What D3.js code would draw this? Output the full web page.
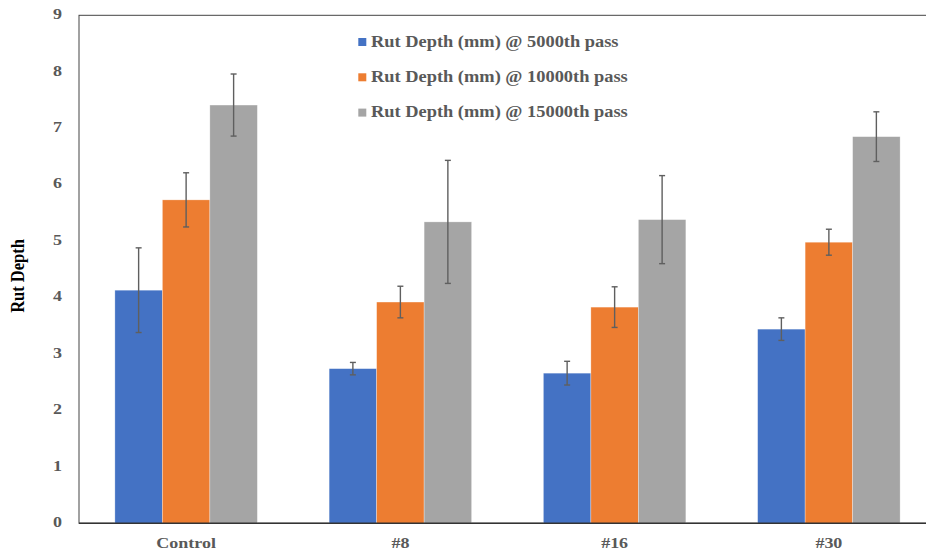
<!DOCTYPE html>
<html>
<head>
<meta charset="utf-8">
<script src="https://cdn.jsdelivr.net/npm/d3@7"></script>
<style>
  html, body { margin: 0; padding: 0; background: #fff; }
  svg { display: block; }
</style>
</head>
<body>
<svg id="chart" width="926" height="554"></svg>
<script>
const categories = ["Control", "#8", "#16", "#30"];
const seriesNames = [
  "Rut Depth (mm) @ 5000th pass",
  "Rut Depth (mm) @ 10000th pass",
  "Rut Depth (mm) @ 15000th pass"
];
const pass5000 = [4.13, 2.74, 2.66, 3.44];
const pass10000 = [5.73, 3.92, 3.83, 4.98];
const pass15000 = [7.41, 5.34, 5.38, 6.85];
const err5000 = [0.75, 0.11, 0.21, 0.20];
const err10000 = [0.48, 0.28, 0.36, 0.23];
const err15000 = [0.55, 1.09, 0.78, 0.44];
const yTicks = [0, 1, 2, 3, 4, 5, 6, 7, 8, 9];
const colors = ["#4472C4", "#ED7D31", "#A5A5A5"];

const values = [pass5000, pass10000, pass15000];
const errors = [err5000, err10000, err15000];

const svg = d3.select("#chart");
const mLeft = 79, mRight = 936, mTop = 15.3, mBottom = 523.3;

const x = d3.scaleBand().domain(categories).range([mLeft, mRight]).paddingInner(0.335).paddingOuter(0.1675);
const xs = d3.scaleBand().domain(d3.range(3)).range([0, x.bandwidth()]);
const y = d3.scaleLinear().domain([0, 9]).range([mBottom, mTop]);

// Plot frame
svg.append("rect").attr("x", mLeft).attr("y", mTop).attr("width", mRight - mLeft).attr("height", mBottom - mTop)
  .attr("fill", "none").attr("stroke", "#444").attr("stroke-width", 1);

// Bars
const groups = svg.append("g").selectAll("g").data(categories).join("g")
  .attr("transform", d => `translate(${x(d)},0)`);

values.forEach((vals, s) => {
  groups.append("rect")
    .attr("x", xs(s))
    .attr("width", xs.bandwidth())
    .attr("y", (d, i) => y(vals[i]))
    .attr("height", (d, i) => y(0) - y(vals[i]))
    .attr("fill", colors[s])
    .attr("stroke", "#fff").attr("stroke-opacity", 0.5).attr("stroke-width", 0.6);
});

// Error bars
values.forEach((vals, s) => {
  const cx = xs(s) + xs.bandwidth() / 2;
  const eb = groups.append("g").attr("stroke", "#5f5f5f").attr("stroke-width", 1.4);
  eb.append("line").attr("x1", cx).attr("x2", cx)
    .attr("y1", (d, i) => y(vals[i] + errors[s][i])).attr("y2", (d, i) => y(vals[i] - errors[s][i]));
  eb.append("line").attr("x1", cx - 3).attr("x2", cx + 3)
    .attr("y1", (d, i) => y(vals[i] + errors[s][i])).attr("y2", (d, i) => y(vals[i] + errors[s][i]));
  eb.append("line").attr("x1", cx - 3).attr("x2", cx + 3)
    .attr("y1", (d, i) => y(vals[i] - errors[s][i])).attr("y2", (d, i) => y(vals[i] - errors[s][i]));
});

// Bottom axis line
svg.append("line").attr("x1", mLeft).attr("x2", mRight).attr("y1", mBottom).attr("y2", mBottom)
  .attr("stroke", "#333").attr("stroke-width", 1.6);

const fontFam = "'Liberation Serif', 'Times New Roman', serif";

// Y axis
const yAxis = svg.append("g").attr("transform", `translate(${mLeft},0)`)
  .call(d3.axisLeft(y).tickValues(yTicks).tickSize(0).tickPadding(17).tickFormat(d3.format("d")));
yAxis.select(".domain").remove();
yAxis.selectAll("text")
  .attr("font-family", fontFam).attr("font-size", 15).attr("font-weight", "bold").attr("fill", "#595959")
  .attr("dy", "0.22em")
  .attr("transform", function() {
    const xx = +d3.select(this).attr("x");
    return `translate(${xx},0) scale(1.2,1) translate(${-xx},0)`;
  });

// X axis labels
const xAxis = svg.append("g").attr("transform", `translate(0,${mBottom})`)
  .call(d3.axisBottom(x).tickSize(0).tickPadding(0));
xAxis.select(".domain").remove();
xAxis.selectAll(".tick text")
  .attr("font-family", fontFam).attr("font-size", 15).attr("font-weight", "bold").attr("fill", "#595959")
  .attr("x", 0).attr("y", 25).attr("dy", 0)
  .attr("transform", "scale(1.2,1)");

// Y title
svg.append("text")
  .attr("transform", "translate(24,276) scale(1.15,1) rotate(-90)")
  .attr("text-anchor", "middle")
  .attr("font-family", fontFam).attr("font-size", 16.5).attr("font-weight", "bold").attr("fill", "#000")
  .text("Rut Depth");

// Legend
const legend = svg.append("g");
seriesNames.forEach((name, s) => {
  const by = 46.5 + s * 35.3;
  legend.append("rect").attr("x", 358.3).attr("y", by - 8.5).attr("width", 8).attr("height", 8).attr("fill", colors[s]);
  legend.append("text")
    .attr("transform", `translate(371,${by}) scale(1.15,1)`)
    .attr("font-family", fontFam).attr("font-size", 16).attr("font-weight", "bold").attr("fill", "#595959")
    .text(name);
});
</script>
</body>
</html>
